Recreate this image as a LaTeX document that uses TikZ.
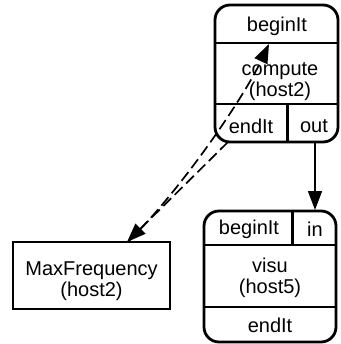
\documentclass[tikz,border=0pt]{standalone}
\usepackage{fontspec}
\setmainfont{Liberation Sans}
\usetikzlibrary{arrows.meta}
\begin{document}
\begin{tikzpicture}[x=1pt,y=-1pt,
  comp/.style={draw,line width=2.8pt,rounded corners=15pt,inner sep=0pt},
  plain/.style={draw,line width=1.3pt,inner sep=0pt},
  sep/.style={line width=2.8pt},
  txt/.style={inner sep=0pt,align=center,font=\fontsize{20}{21}\selectfont},
  flow/.style={line width=1.7pt,-{Triangle[length=19pt,width=14pt]}},
  dep/.style={flow,dash pattern=on 11pt off 5pt}]
\useasboundingbox (0,0) rectangle (340,344);
% compute
\node[comp,minimum width=123pt,minimum height=137pt] (compute) at (276.5,73.5) {};
\coordinate (cl1) at (215,43);
\coordinate (cl2) at (215,104);
\coordinate (cv) at (287.5,104);
\draw[sep] (cl1) -- (cl1 -| compute.east);
\draw[sep] (cl2) -- (cl2 -| compute.east);
\draw[sep] (cv) -- (cv |- compute.south);
\node[txt] (cbegin) at (277,26) {beginIt};
\node[txt] (ctext) at (280,82) {compute\\(host2)};
\node[txt] (cend) at (251,126) {endIt};
\node[txt] (cout) at (314,126) {out};
% visu
\node[comp,minimum width=132pt,minimum height=131pt] (visu) at (270,276.5) {};
\coordinate (vl1) at (204,245);
\coordinate (vl2) at (204,307);
\coordinate (vv) at (292.5,211);
\draw[sep] (vl1) -- (vl1 -| visu.east);
\draw[sep] (vl2) -- (vl2 -| visu.east);
\draw[sep] (vv) -- (vv |- vl1);
\node[txt] (vbegin) at (249,229) {beginIt};
\node[txt] (vin) at (315,229) {in};
\node[txt] (vtext) at (270,278) {visu\\(host5)};
\node[txt] (vend) at (270,325) {endIt};
% MaxFrequency
\node[plain,minimum width=157pt,minimum height=67pt] (mf) at (91.5,275.5) {};
\node[txt] (mftext) at (91.5,281) {MaxFrequency\\(host2)};
% connectors
\coordinate (outsrc) at (315,142);
\coordinate (intgt) at (315,210);
\draw[flow] (outsrc) -- (intgt);
\coordinate (endsrc) at (228,142);
\coordinate (mfin) at (127,242);
\draw[dep] (endsrc) -- (mfin);
\coordinate (mfout) at (129,241);
\coordinate (bitgt) at (269,44);
\draw[dep] (mfout) .. controls (185,185) and (245,95) .. (bitgt);
\end{tikzpicture}
\end{document}
